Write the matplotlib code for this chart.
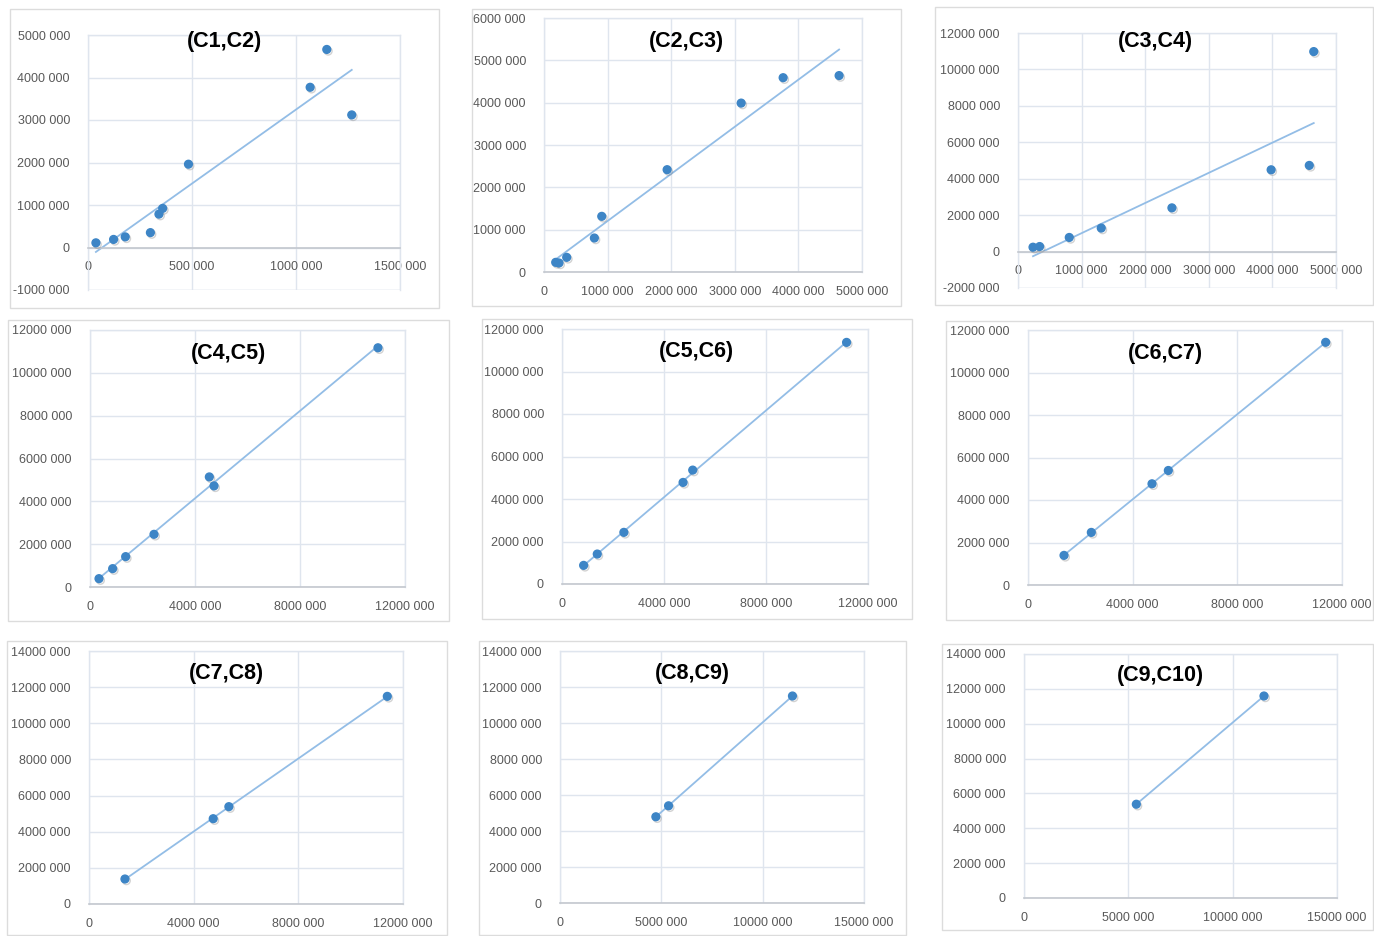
import numpy as np
import matplotlib
matplotlib.use("Agg")
import matplotlib.pyplot as plt
import matplotlib.patheffects as pe
from matplotlib.patches import Rectangle
from matplotlib.ticker import FuncFormatter, MultipleLocator

# pairs of consecutive columns (Ci, Ci+1)
c1c2_x = [38e3, 123e3, 179e3, 300e3, 341e3, 359e3, 483e3, 1068e3, 1148e3, 1268e3]
c1c2_y = [110e3, 190e3, 250e3, 350e3, 785e3, 920e3, 1960e3, 3770e3, 4660e3, 3120e3]

c2c3_x = [184e3, 236e3, 357e3, 792e3, 908e3, 1936e3, 3100e3, 3760e3, 4640e3]
c2c3_y = [228e3, 213e3, 346e3, 803e3, 1315e3, 2417e3, 3990e3, 4590e3, 4640e3]

c3c4_x = [236e3, 340e3, 806e3, 1309e3, 2420e3, 3980e3, 4580e3, 4650e3]
c3c4_y = [240e3, 277e3, 775e3, 1290e3, 2400e3, 4490e3, 4730e3, 10980e3]

c4c5_x = [343e3, 863e3, 1359e3, 2438e3, 4546e3, 4724e3, 10970e3]
c4c5_y = [390e3, 857e3, 1418e3, 2460e3, 5140e3, 4720e3, 11170e3]

c5c6_x = [848e3, 1383e3, 2426e3, 4748e3, 5126e3, 11160e3]
c5c6_y = [877e3, 1410e3, 2430e3, 4780e3, 5360e3, 11370e3]

c6c7_x = [1376e3, 2420e3, 4739e3, 5363e3, 11376e3]
c6c7_y = [1394e3, 2475e3, 4763e3, 5389e3, 11420e3]

c7c8_x = [1374e3, 4747e3, 5345e3, 11400e3]
c7c8_y = [1383e3, 4720e3, 5386e3, 11490e3]

c8c9_x = [4730e3, 5356e3, 11470e3]
c8c9_y = [4790e3, 5400e3, 11500e3]

c9c10_x = [5383e3, 11500e3]
c9c10_y = [5380e3, 11590e3]

titles = ["(C1,C2)", "(C2,C3)", "(C3,C4)", "(C4,C5)", "(C5,C6)",
          "(C6,C7)", "(C7,C8)", "(C8,C9)", "(C9,C10)"]
xs = [c1c2_x, c2c3_x, c3c4_x, c4c5_x, c5c6_x, c6c7_x, c7c8_x, c8c9_x, c9c10_x]
ys = [c1c2_y, c2c3_y, c3c4_y, c4c5_y, c5c6_y, c6c7_y, c7c8_y, c8c9_y, c9c10_y]

# axis ranges: (xmin, xmax, xstep, ymin, ymax, ystep)
ranges = [
    (0, 1.5e6, 5e5, -1e6, 5e6, 1e6),
    (0, 5e6, 1e6, 0, 6e6, 1e6),
    (0, 5e6, 1e6, -2e6, 12e6, 2e6),
    (0, 12e6, 4e6, 0, 12e6, 2e6),
    (0, 12e6, 4e6, 0, 12e6, 2e6),
    (0, 12e6, 4e6, 0, 12e6, 2e6),
    (0, 12e6, 4e6, 0, 14e6, 2e6),
    (0, 15e6, 5e6, 0, 14e6, 2e6),
    (0, 15e6, 5e6, 0, 14e6, 2e6),
]

W, H = 1374, 936

# layout in pixels: chart frame, plot area, title centre
frames = [(10, 9, 439, 308), (472, 9, 901, 306), (935, 7, 1373, 305),
          (8, 320, 449, 621), (482, 319, 912, 619), (946, 321, 1373, 620),
          (7, 641, 447, 935), (479, 641, 906, 935), (942, 644, 1373, 930)]
plot_areas = [(88, 35, 400, 290), (544, 18, 862, 272), (1018, 33, 1336, 288),
              (90, 330, 405, 587), (562, 329, 868, 584), (1028, 330, 1342, 585),
              (89, 651, 403, 904), (560, 651, 864, 903), (1024, 654, 1337, 898)]
title_pos = [(224, 42), (686, 42), (1155, 42), (228, 353), (696, 352),
             (1165, 353), (226, 674), (692, 674), (1160, 676)]

GRID = "#dfe5ee"
AXIS = "#c3c7ce"
TICK = "#595959"
DOT = "#3d85c6"
TREND = "#93bde6"
FONT = ["Liberation Sans", "DejaVu Sans"]


def num_fmt(v, pos=None):
    v = int(round(v))
    if v == 0:
        return "0"
    sign = "-" if v < 0 else ""
    v = abs(v)
    if v < 1000:
        return sign + str(v)
    return f"{sign}{v // 1000} {v % 1000:03d}"


fig = plt.figure(figsize=(W / 100, H / 100), dpi=100)
fig.patch.set_facecolor("white")

for i in range(9):
    fx0, fy0, fx1, fy1 = frames[i]
    fig.patches.append(Rectangle((fx0 / W, 1 - fy1 / H), (fx1 - fx0) / W, (fy1 - fy0) / H,
                                 transform=fig.transFigure, fill=False,
                                 ec="#dcdcdc", lw=1.0))

    px0, py0, px1, py1 = plot_areas[i]
    ax = fig.add_axes([px0 / W, 1 - py1 / H, (px1 - px0) / W, (py1 - py0) / H])
    xmin, xmax, xstep, ymin, ymax, ystep = ranges[i]
    ax.set_xlim(xmin, xmax)
    ax.set_ylim(ymin, ymax)
    ax.xaxis.set_major_locator(MultipleLocator(xstep))
    ax.yaxis.set_major_locator(MultipleLocator(ystep))
    ax.xaxis.set_major_formatter(FuncFormatter(num_fmt))
    ax.yaxis.set_major_formatter(FuncFormatter(num_fmt))
    ax.grid(True, color=GRID, lw=1.0, zorder=0)
    ax.set_axisbelow(True)
    for s in ("top", "right", "left"):
        ax.spines[s].set_color(GRID)
        ax.spines[s].set_linewidth(1.0)
    ax.spines["bottom"].set_position(("data", 0))
    ax.spines["bottom"].set_color(AXIS)
    ax.spines["bottom"].set_linewidth(1.2)
    if ymin < 0:
        ax.axhline(ymin, color=GRID, lw=1.0, zorder=0)
    ax.tick_params(length=0, labelsize=9, labelcolor=TICK)
    ax.tick_params(axis="y", pad=13)
    ax.tick_params(axis="x", pad=10)
    for lab in ax.get_xticklabels() + ax.get_yticklabels():
        lab.set_family(FONT)

    x = np.array(xs[i])
    y = np.array(ys[i])
    # linear trendline over the data range
    k, b = np.polyfit(x, y, 1)
    tx = np.array([x.min(), x.max()])
    ax.plot(tx, k * tx + b, color=TREND, lw=1.3, zorder=2)
    ax.plot(x, y, "o", color=DOT, ms=5.6, mec=DOT, zorder=3,
            path_effects=[pe.SimpleLineShadow(offset=(1, -1.2), shadow_color="gray", alpha=0.35),
                          pe.Normal()])

    tx_, ty_ = title_pos[i]
    fig.text(tx_ / W, 1 - ty_ / H, titles[i], ha="center", va="center",
             fontsize=15.5, fontweight="bold", family=FONT, color="black")

fig.savefig("out.png", dpi=100)
